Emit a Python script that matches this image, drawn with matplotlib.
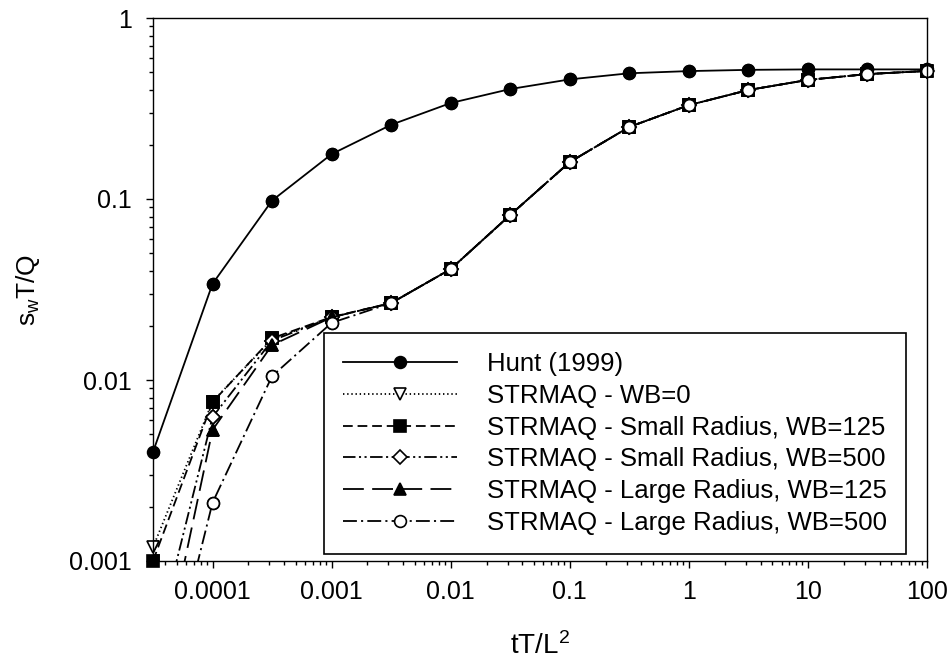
import numpy as np
import matplotlib
matplotlib.use('Agg')
import matplotlib.pyplot as plt
from matplotlib.ticker import NullFormatter

# dimensionless time tT/L^2 (half-decade steps)
t_vals = [3.16e-5, 1e-4, 3.16e-4, 1e-3, 3.16e-3, 0.01, 0.0316, 0.1, 0.316, 1, 3.16, 10, 31.6, 100]

# dimensionless drawdown s_w T/Q
hunt = [0.0040, 0.034, 0.098, 0.177, 0.257, 0.339, 0.405, 0.458, 0.495, 0.509, 0.517, 0.52, 0.52, 0.52]
wb0 = [0.00119, 0.0076, 0.0168, 0.0222, 0.0266, 0.041, 0.0816, 0.16, 0.25, 0.33, 0.40, 0.455, 0.49, 0.51]
small_125 = [0.0010, 0.00755, 0.0170, 0.0223, 0.0266, 0.041, 0.0816, 0.16, 0.25, 0.33, 0.40, 0.455, 0.49, 0.51]
small_500 = [0.0003, 0.00625, 0.0165, 0.0222, 0.0266, 0.041, 0.0816, 0.16, 0.25, 0.33, 0.40, 0.455, 0.49, 0.51]
large_125 = [0.00015, 0.0053, 0.0156, 0.0222, 0.0266, 0.041, 0.0816, 0.16, 0.25, 0.33, 0.40, 0.455, 0.49, 0.51]
large_500 = [0.0001, 0.0021, 0.0105, 0.0207, 0.0266, 0.041, 0.0816, 0.16, 0.25, 0.33, 0.40, 0.455, 0.49, 0.51]

labels = ['Hunt (1999)', 'STRMAQ - WB=0', 'STRMAQ - Small Radius, WB=125',
          'STRMAQ - Small Radius, WB=500', 'STRMAQ - Large Radius, WB=125',
          'STRMAQ - Large Radius, WB=500']

x_ticks = [1e-4, 1e-3, 1e-2, 1e-1, 1, 10, 100]
x_tick_labels = ['0.0001', '0.001', '0.01', '0.1', '1', '10', '100']
y_ticks = [0.001, 0.01, 0.1, 1]
y_tick_labels = ['0.001', '0.01', '0.1', '1']

plt.rcParams['font.family'] = ['Liberation Sans', 'DejaVu Sans']
plt.rcParams['lines.scale_dashes'] = False

fig = plt.figure(figsize=(9.5, 6.61), dpi=100)
ax = fig.add_axes([153/950, 1-561/661, (927-153)/950, (561-18)/661])
ax.set_xscale('log')
ax.set_yscale('log')
ax.set_xlim(10**-4.5, 100)
ax.set_ylim(0.001, 1)

styles = [
    dict(ls='-', marker='o', mfc='black', ms=8.5),
    dict(ls=(0, (1, 2)), marker='v', mfc='white', ms=8.5),
    dict(ls=(0, (7, 3.5)), marker='s', mfc='black', ms=8),
    dict(ls=(0, (9, 2.5, 1.5, 2.5, 1.5, 2.5)), marker='D', mfc='white', ms=7),
    dict(ls=(0, (15, 6)), marker='^', mfc='black', ms=8.5),
    dict(ls=(0, (10, 3, 1.5, 3)), marker='o', mfc='white', ms=8.5),
]
series = [hunt, wb0, small_125, small_500, large_125, large_500]

t = np.array(t_vals)
for y, st, lab in zip(series, styles, labels):
    y = np.array(y)
    ax.plot(t, y, color='black', lw=1.3, linestyle=st['ls'], marker=st['marker'],
            ms=st['ms'], mfc=st['mfc'], mec='black', mew=1.2, label=lab)
    # markers sitting on the frame are drawn whole
    vis = y >= 0.00099
    ax.plot(t[vis], y[vis], ls='none', marker=st['marker'], ms=st['ms'],
            mfc=st['mfc'], mec='black', mew=1.2, clip_on=False)

ax.set_xticks(x_ticks)
ax.set_xticklabels(x_tick_labels)
ax.set_yticks(y_ticks)
ax.set_yticklabels(y_tick_labels)
ax.xaxis.set_minor_formatter(NullFormatter())
ax.yaxis.set_minor_formatter(NullFormatter())
ax.tick_params(which='both', direction='out', top=False, right=False, width=1, labelsize=18)
ax.tick_params(which='major', length=5)
ax.tick_params(which='minor', length=3)
ax.tick_params(axis='x', pad=9)
ax.tick_params(axis='y', pad=10)
for sp in ax.spines.values():
    sp.set_linewidth(1.0)

ax.set_xlabel(r'$\mathregular{tT/L^2}$', fontsize=20, labelpad=20)
ax.set_ylabel(r'$\mathregular{s_wT/Q}$', fontsize=19, labelpad=20)

leg = ax.legend(loc='lower right', bbox_to_anchor=(0.973, 0.013), borderaxespad=0,
                fontsize=18.5, fancybox=False, edgecolor='black', framealpha=1,
                handlelength=4.45, handletextpad=1.15, labelspacing=0.3, borderpad=0.75,
                numpoints=1)
leg.get_frame().set_linewidth(1.2)

plt.savefig('out.png', dpi=100)
